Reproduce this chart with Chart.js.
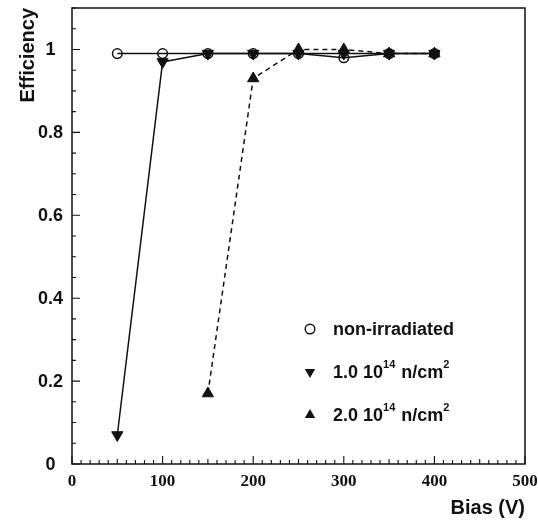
<!DOCTYPE html>
<html><head><meta charset="utf-8">
<script src="https://cdn.jsdelivr.net/npm/chart.js@4/dist/chart.umd.min.js"></script>
<style>html,body{margin:0;padding:0;background:#fff}#wrap{width:538px;height:524px}</style>
</head><body><div id="wrap"><canvas id="c" width="538" height="524"></canvas></div>
<script>
// ---- data ----
const biasNon = [50, 100, 150, 200, 250, 300, 350, 400];
const effNon  = [0.99, 0.99, 0.99, 0.99, 0.99, 0.98, 0.99, 0.99];
const bias1   = [50, 100, 150, 200, 250, 300, 350, 400];
const eff1    = [0.07, 0.97, 0.99, 0.99, 0.99, 0.99, 0.99, 0.99];
const bias2   = [150, 200, 250, 300, 350, 400];
const eff2    = [0.17, 0.93, 1.0, 1.0, 0.99, 0.99];
const xTickValues = [0, 100, 200, 300, 400, 500];
const yTickValues = [0, 0.2, 0.4, 0.6, 0.8, 1];
const seriesNames = ['non-irradiated', '1.0 10|14| n/cm|2', '2.0 10|14| n/cm|2'];
const xTitle = 'Bias (V)';
const yTitle = 'Efficiency';

const pts = (xs, ys) => xs.map((x, i) => ({x, y: ys[i]}));
const SANS = '"Liberation Sans", Arial, Helvetica, sans-serif';
const SERIF = '"Liberation Serif", "Times New Roman", serif';

const framePlugin = {
  id: 'frame',
  afterDraw(chart) {
    const ctx = chart.ctx, a = chart.chartArea;
    const xs = chart.scales.x, ys = chart.scales.y;
    ctx.save();
    ctx.strokeStyle = '#111';
    ctx.lineWidth = 1.5;
    ctx.strokeRect(a.left, a.top, a.right - a.left, a.bottom - a.top);
    ctx.lineWidth = 1.1;
    ctx.beginPath();
    for (let v = 0; v <= 500; v += 10) {
      const px = xs.getPixelForValue(v);
      const len = (v % 100 === 0) ? 8 : (v % 50 === 0 ? 5 : 4);
      ctx.moveTo(px, a.bottom); ctx.lineTo(px, a.bottom - len);
    }
    for (let k = 0; k <= 22; k++) {
      const v = k * 0.05;
      const py = ys.getPixelForValue(v);
      const len = (k % 4 === 0) ? 8 : 4;
      ctx.moveTo(a.left, py); ctx.lineTo(a.left + len, py);
    }
    ctx.stroke();

    // legend
    const mx = 310, tx = 333, rows = [329, 372, 415];
    ctx.fillStyle = '#111';
    ctx.strokeStyle = '#111';
    ctx.lineWidth = 1.4;
    ctx.beginPath(); ctx.arc(mx, rows[0], 4.8, 0, Math.PI * 2); ctx.stroke();
    const r = 6;
    ctx.beginPath();
    ctx.moveTo(mx, rows[1] + r);
    ctx.lineTo(mx - r * 0.866, rows[1] - r * 0.5);
    ctx.lineTo(mx + r * 0.866, rows[1] - r * 0.5);
    ctx.closePath(); ctx.fill();
    ctx.beginPath();
    ctx.moveTo(mx, rows[2] - r);
    ctx.lineTo(mx - r * 0.866, rows[2] + r * 0.5);
    ctx.lineTo(mx + r * 0.866, rows[2] + r * 0.5);
    ctx.closePath(); ctx.fill();

    ctx.textBaseline = 'middle';
    ctx.textAlign = 'left';
    seriesNames.forEach((name, i) => {
      const parts = name.split('|');
      let x = tx;
      parts.forEach((p, j) => {
        const sup = j % 2 === 1;
        ctx.font = sup ? 'bold 11px ' + SANS : 'bold 18px ' + SANS;
        ctx.fillText(p, x, rows[i] + (sup ? -7 : 1));
        x += ctx.measureText(p).width + (sup ? 1 : 0);
      });
    });
    ctx.restore();
  }
};

new Chart(document.getElementById('c'), {
  type: 'line',
  data: {
    datasets: [
      {
        label: seriesNames[0], data: pts(biasNon, effNon),
        borderColor: '#111', borderWidth: 1.5, backgroundColor: 'rgba(0,0,0,0)',
        pointStyle: 'circle', pointRadius: 4.8, pointBorderWidth: 1.5,
        pointBackgroundColor: 'rgba(0,0,0,0)', pointBorderColor: '#111', tension: 0
      },
      {
        label: seriesNames[1], data: pts(bias1, eff1),
        borderColor: '#111', borderWidth: 1.5,
        pointStyle: 'triangle', rotation: 180, pointRadius: 6.5, pointBorderWidth: 1,
        pointBackgroundColor: '#111', pointBorderColor: '#111', tension: 0
      },
      {
        label: seriesNames[2], data: pts(bias2, eff2),
        borderColor: '#111', borderWidth: 1.5, borderDash: [5, 4],
        pointStyle: 'triangle', pointRadius: 6.5, pointBorderWidth: 1,
        pointBackgroundColor: '#111', pointBorderColor: '#111', tension: 0
      }
    ]
  },
  options: {
    responsive: false, animation: false, devicePixelRatio: 1,
    layout: { padding: { left: 0, right: 13, top: 8, bottom: 0 } },
    plugins: { legend: { display: false }, tooltip: { enabled: false } },
    scales: {
      x: {
        type: 'linear', min: 0, max: 500,
        afterFit(s) { s.height = 60; s.paddingLeft = 0; s.paddingRight = 0; },
        afterBuildTicks(s) { s.ticks = xTickValues.map(v => ({value: v})); },
        grid: { display: false, drawTicks: false },
        border: { display: false },
        ticks: { padding: 7, color: '#111', font: { family: SERIF, size: 17, weight: 'bold' }, maxRotation: 0 },
        title: { display: true, text: xTitle, align: 'end', color: '#111',
          font: { family: SANS, size: 20, weight: 'bold' }, padding: { top: 0, bottom: 4 } }
      },
      y: {
        type: 'linear', min: 0, max: 1.1,
        afterFit(s) { s.width = 72; s.paddingTop = 0; s.paddingBottom = 0; },
        afterBuildTicks(s) { s.ticks = yTickValues.map(v => ({value: v})); },
        grid: { display: false, drawTicks: false },
        border: { display: false },
        ticks: { padding: 9, crossAlign: 'center', color: '#111', labelOffset: 1,
          font: { family: SANS, size: 18, weight: 'bold' },
          callback: v => String(+Number(v).toFixed(2)) },
        title: { display: true, text: yTitle, align: 'end', color: '#111',
          font: { family: SANS, size: 20, weight: 'bold' }, padding: { top: 16, bottom: 0 } }
      }
    }
  },
  plugins: [framePlugin]
});
</script></body></html>
